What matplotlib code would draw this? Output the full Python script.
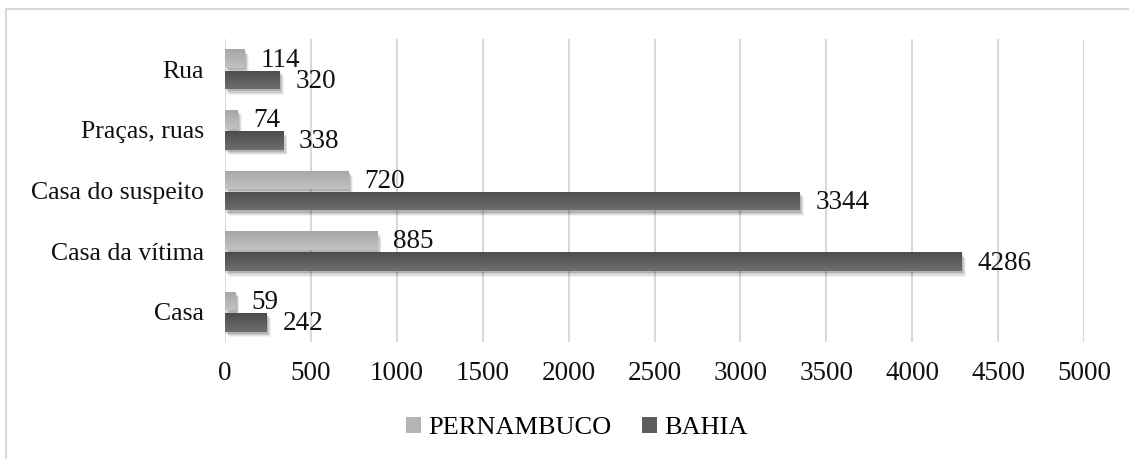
import numpy as np
import matplotlib
matplotlib.use("Agg")
import matplotlib.pyplot as plt
import matplotlib.patheffects as pe
from matplotlib.patches import Rectangle, Patch
from matplotlib.colors import LinearSegmentedColormap

plt.rcParams['font.family'] = ['Liberation Serif', 'DejaVu Serif']

categories = ["Casa", "Casa da vítima", "Casa do suspeito", "Praças, ruas", "Rua"]
pernambuco = [59, 885, 720, 74, 114]
bahia = [242, 4286, 3344, 338, 320]
series_names = ["PERNAMBUCO", "BAHIA"]
x_ticks = [0, 500, 1000, 1500, 2000, 2500, 3000, 3500, 4000, 4500, 5000]

light_cmap = LinearSegmentedColormap.from_list("light", ["#c2c2c2", "#a6a6a6"])
dark_cmap = LinearSegmentedColormap.from_list("dark", ["#6e6e6e", "#4c4c4c"])

W, H, DPI = 1129, 459, 100
fig = plt.figure(figsize=(W / DPI, H / DPI), dpi=DPI)
ax = fig.add_axes([225 / W, 1 - 342 / H, (1084 - 225) / W, (342 - 39) / H])

# outer frame of the chart area
fig.patches.append(Rectangle((6 / W, -0.1), 1.2, 1 - 9 / H + 0.1, transform=fig.transFigure,
                             fill=False, edgecolor="#d9d9d9", linewidth=1.5, zorder=0))

y = np.arange(len(categories))
bh = 0.31
off = 0.175

shadow = [
    pe.SimplePatchShadow(offset=(3.0, -4.0), shadow_rgbFace="k", alpha=0.05),
    pe.SimplePatchShadow(offset=(2.5, -3.2), shadow_rgbFace="k", alpha=0.07),
    pe.SimplePatchShadow(offset=(1.8, -2.4), shadow_rgbFace="k", alpha=0.09),
    pe.SimplePatchShadow(offset=(1.0, -1.5), shadow_rgbFace="k", alpha=0.12),
    pe.Normal(),
]

grad = np.linspace(0, 1, 64).reshape(-1, 1)


def draw_series(values, ypos, cmap):
    bars = ax.barh(ypos, values, height=bh, color=cmap(0.5), zorder=3,
                   path_effects=shadow, linewidth=0)
    for b in bars:
        x0, y0, w, h = b.get_x(), b.get_y(), b.get_width(), b.get_height()
        im = ax.imshow(grad, cmap=cmap, extent=(x0, x0 + w, y0 + h, y0),
                       aspect="auto", origin="upper", zorder=4, interpolation="bilinear")
        im.set_clip_path(b)
    return bars


bars_p = draw_series(pernambuco, y + off, light_cmap)
bars_b = draw_series(bahia, y - off, dark_cmap)

for vals, pos in ((pernambuco, y + off), (bahia, y - off)):
    for v, yy in zip(vals, pos):
        ax.annotate(str(v), (v, yy), xytext=(11.5, -1), textcoords="offset points",
                    va="center", ha="left", fontsize=19.5, color="#111111", zorder=6)

ax.set_xlim(0, 5000)
ax.set_ylim(-0.5, len(categories) - 0.5)
ax.set_xticks(x_ticks)
ax.set_xticklabels([str(t) for t in x_ticks])
ax.set_yticks(y)
ax.set_yticklabels(categories)
ax.tick_params(axis="both", length=0, colors="#111111")
ax.tick_params(axis="x", labelsize=19.5, pad=14)
ax.tick_params(axis="y", labelsize=18.5, pad=15)
ax.grid(axis="x", color="#d9d9d9", linewidth=1.5, zorder=0)
ax.set_axisbelow(True)
for s in ax.spines.values():
    s.set_visible(False)

handles = [Patch(facecolor=light_cmap(0.5), edgecolor="none"),
           Patch(facecolor=dark_cmap(0.5), edgecolor="none")]
fig.legend(handles, series_names, loc="center", bbox_to_anchor=(577 / W, 1 - 428 / H),
           ncol=2, frameon=False, fontsize=19, handlelength=0.55, handleheight=0.55,
           handletextpad=0.3, columnspacing=1.15, borderpad=0)

fig.savefig("out.png", dpi=DPI)
